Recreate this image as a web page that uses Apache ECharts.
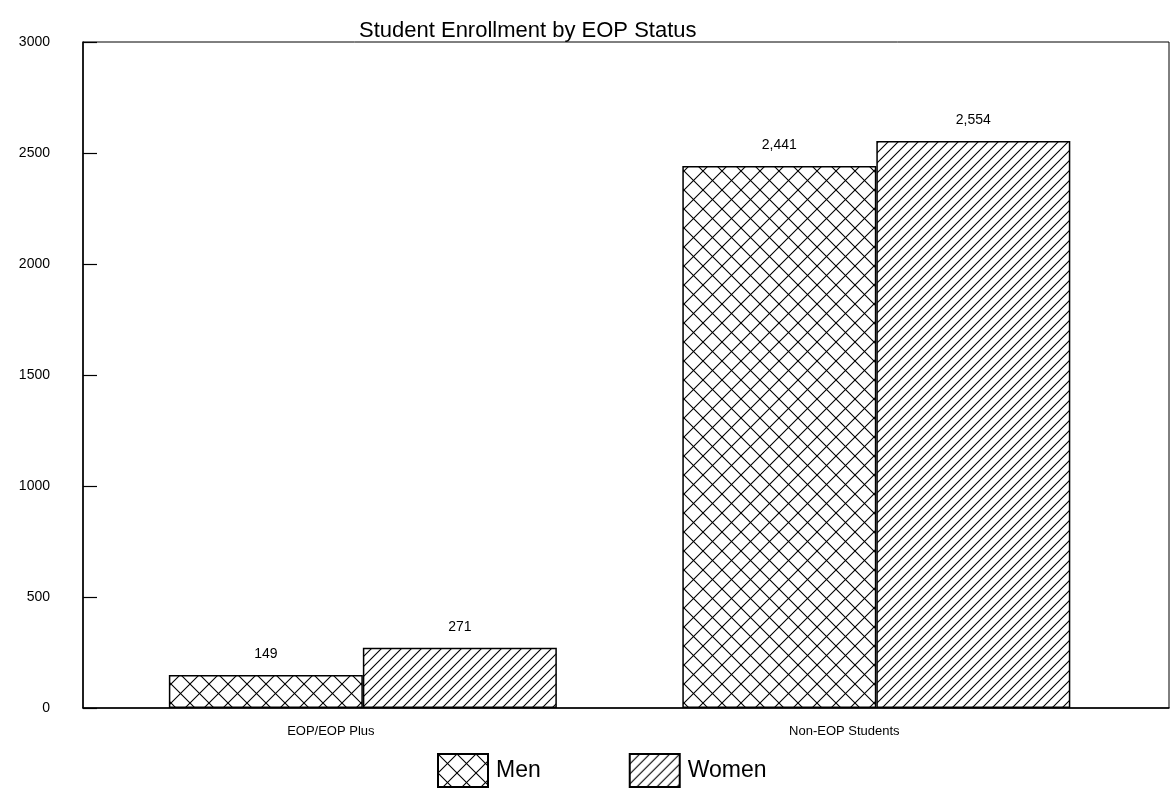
<!DOCTYPE html>
<html>
<head>
<meta charset="utf-8">
<script src="https://cdn.jsdelivr.net/npm/echarts@6/dist/echarts.min.js"></script>
<style>html,body{margin:0;padding:0;background:#fff;}#c{width:1172px;height:794px;}</style>
</head>
<body>
<div id="c"></div>
<script>
const categories = ['EOP/EOP Plus', 'Non-EOP Students'];
const seriesNames = ['Men', 'Women'];
const menValues = [149, 2441];
const womenValues = [271, 2554];
const yTicks = [0, 500, 1000, 1500, 2000, 2500, 3000];

function makePattern(type, p) {
  const c = document.createElement('canvas');
  c.width = p; c.height = p;
  const g = c.getContext('2d');
  g.fillStyle = '#fff'; g.fillRect(0, 0, p, p);
  g.strokeStyle = '#000'; g.lineWidth = 1.1;
  function fwd() {
    g.beginPath();
    g.moveTo(-1, p + 1); g.lineTo(p + 1, -1);
    g.moveTo(-1, 1); g.lineTo(1, -1);
    g.moveTo(p - 1, p + 1); g.lineTo(p + 1, p - 1);
    g.stroke();
  }
  function back() {
    g.beginPath();
    g.moveTo(-1, -1); g.lineTo(p + 1, p + 1);
    g.moveTo(p - 1, -1); g.lineTo(p + 1, 1);
    g.moveTo(-1, p - 1); g.lineTo(1, p + 1);
    g.stroke();
  }
  fwd();
  if (type === 'cross') back();
  return c;
}

const menFill = { image: makePattern('cross', 19), repeat: 'repeat' };
const womenFill = { image: makePattern('fwd', 10), repeat: 'repeat' };

const fmt = v => Number(v).toLocaleString('en-US');
const FONT = 'Liberation Sans, Arial, sans-serif';

const chart = echarts.init(document.getElementById('c'), null, { renderer: 'canvas' });
chart.setOption({
  animation: false,
  backgroundColor: '#fff',
  title: {
    text: 'Student Enrollment by EOP Status',
    left: 354, top: 15,
    textStyle: { fontFamily: FONT, fontSize: 22, fontWeight: 'normal', color: '#000' }
  },
  legend: {
    data: seriesNames,
    left: 432, top: 748,
    itemWidth: 50, itemHeight: 33, itemGap: 88,
    icon: 'rect',
    textStyle: { fontFamily: FONT, fontSize: 23, color: '#000', padding: [0, 0, 0, 3] }
  },
  grid: {
    left: 83, right: 3, top: 42, bottom: 86,
    show: true, borderColor: '#000', borderWidth: 1
  },
  xAxis: {
    type: 'value', min: -0.545, max: 1.57,
    axisLine: { show: true, onZero: false, lineStyle: { color: '#000', width: 1.5 } },
    axisTick: { show: false },
    splitLine: { show: false },
    axisLabel: {
      customValues: [0, 1],
      formatter: v => categories[Math.round(v)] || '',
      fontFamily: FONT, fontSize: 13, color: '#000', margin: 17,
      padding: [0, 64, 0, 0]
    }
  },
  yAxis: {
    type: 'value', min: 0, max: 3000, interval: 500,
    axisLine: { show: true, onZero: false, lineStyle: { color: '#000', width: 1.5 } },
    axisTick: { show: true, inside: true, length: 14, lineStyle: { color: '#000', width: 1.2 } },
    splitLine: { show: false },
    axisLabel: { fontFamily: FONT, fontSize: 14, color: '#000', margin: 33, formatter: v => String(v) }
  },
  series: [
    {
      name: seriesNames[0], type: 'bar',
      data: menValues.map((v, i) => [i, v]),
      barWidth: 194, barGap: '0%',
      itemStyle: { color: menFill, borderColor: '#000', borderWidth: 1.5 },
      label: { show: true, position: 'top', distance: 14, formatter: p => fmt(p.value[1]),
        fontFamily: FONT, fontSize: 14, color: '#000' }
    },
    {
      name: seriesNames[1], type: 'bar',
      data: womenValues.map((v, i) => [i, v]),
      barWidth: 194, barGap: '0%',
      itemStyle: { color: womenFill, borderColor: '#000', borderWidth: 1.5 },
      label: { show: true, position: 'top', distance: 14, formatter: p => fmt(p.value[1]),
        fontFamily: FONT, fontSize: 14, color: '#000' }
    }
  ]
});
</script>
</body>
</html>
